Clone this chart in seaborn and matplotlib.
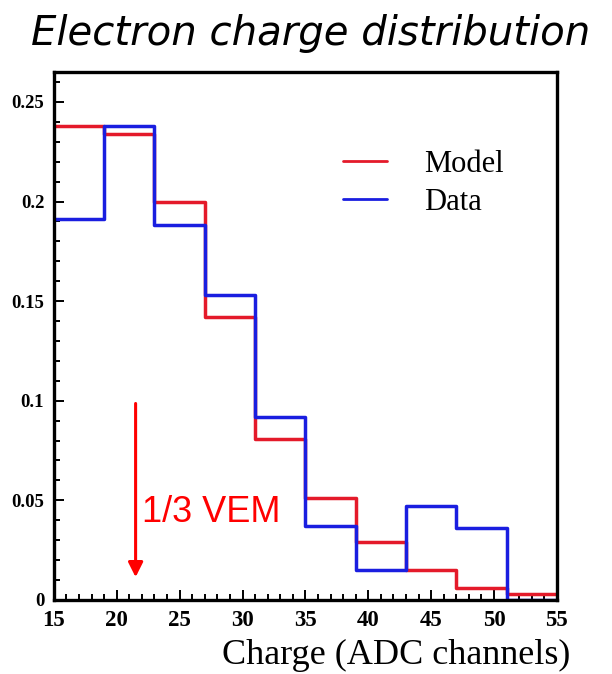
import numpy as np
import pandas as pd
import matplotlib
matplotlib.use("Agg")
import matplotlib.pyplot as plt
from matplotlib.ticker import MultipleLocator, FixedLocator
from matplotlib.lines import Line2D
import seaborn as sns

# ---- data ----
bin_edges = [15, 19, 23, 27, 31, 35, 39, 43, 47, 51, 55]
model_vals = [0.238, 0.234, 0.200, 0.142, 0.081, 0.051, 0.029, 0.015, 0.006, 0.003]
data_vals = [0.191, 0.238, 0.188, 0.153, 0.092, 0.037, 0.015, 0.047, 0.036, 0.0]
series_names = ["Model", "Data"]
x_ticks = [15, 20, 25, 30, 35, 40, 45, 50, 55]
y_ticks = [0, 0.05, 0.1, 0.15, 0.2, 0.25]
y_tick_labels = ["0", "0.05", "0.1", "0.15", "0.2", "0.25"]
title_text = "Electron charge distribution"
xlabel_text = "Charge (ADC channels)"
arrow_label = "1/3 VEM"

RED = "#e41a2a"
BLUE = "#1a1ee0"

sns.set_style("white")
plt.rcParams["font.family"] = ["DejaVu Sans"]
plt.rcParams["text.color"] = "black"
plt.rcParams["xtick.color"] = "black"
plt.rcParams["ytick.color"] = "black"
plt.rcParams["axes.labelcolor"] = "black"

fig = plt.figure(figsize=(6.12, 6.74), dpi=100)
ax = fig.add_axes([0.088, 0.110, 0.822, 0.783])

centers = [(a + b) / 2 for a, b in zip(bin_edges[:-1], bin_edges[1:])]
df = pd.DataFrame({
    "x": centers * 2,
    "w": model_vals + data_vals,
    "series": [series_names[0]] * len(centers) + [series_names[1]] * len(centers),
})

for name, col in zip(series_names, [RED, BLUE]):
    sub = df[df["series"] == name]
    sns.histplot(data=sub, x="x", weights="w", bins=bin_edges, element="step",
                 fill=False, color=col, linewidth=2.5, ax=ax)

ax.set_xlim(15, 55)
ax.set_ylim(0, 0.265)
ax.set_xlabel("")
ax.set_ylabel("")

ax.xaxis.set_major_locator(FixedLocator(x_ticks))
ax.xaxis.set_minor_locator(MultipleLocator(1))
ax.yaxis.set_major_locator(FixedLocator(y_ticks))
ax.set_yticklabels(y_tick_labels)
ax.yaxis.set_minor_locator(MultipleLocator(0.01))
ax.tick_params(which="both", direction="in", top=False, right=False, bottom=True, left=True,
               width=1.4, color="black", labelcolor="black")
ax.tick_params(which="major", length=7)
ax.tick_params(which="minor", length=4)
ax.tick_params(axis="x", pad=7)
ax.tick_params(axis="y", pad=7)
for lab in ax.get_xticklabels():
    lab.set_family("Liberation Serif")
    lab.set_fontweight("bold")
    lab.set_fontsize(16.5)
for lab in ax.get_yticklabels():
    lab.set_family("Liberation Serif")
    lab.set_fontweight("bold")
    lab.set_fontsize(13.5)

for sp in ax.spines.values():
    sp.set_visible(True)
    sp.set_color("black")
    sp.set_linewidth(2.4)

# legend
handles = [Line2D([0], [0], color=RED, lw=2), Line2D([0], [0], color=BLUE, lw=2)]
ax.legend(handles, series_names, loc="upper left", bbox_to_anchor=(0.52, 0.905),
          frameon=False, handlelength=1.45, handletextpad=1.2, labelspacing=0.3,
          labelcolor="black", prop={"family": "Liberation Serif", "size": 22})

# arrow annotation
ax.annotate("", xy=(21.5, 0.010), xytext=(21.5, 0.100),
            arrowprops=dict(arrowstyle="-|>", color="red", lw=2.2, mutation_scale=22))
ax.text(22.0, 0.044, arrow_label, color="red", fontsize=26, family="Liberation Sans",
        va="center", ha="left")

fig.text(0.508, 0.950, title_text, ha="center", va="center", fontsize=29,
         style="italic", family="DejaVu Sans", color="black")
fig.text(0.932, 0.028, xlabel_text, ha="right", va="center", fontsize=26,
         family="Liberation Serif", color="black")

fig.savefig("out.png", dpi=100)
